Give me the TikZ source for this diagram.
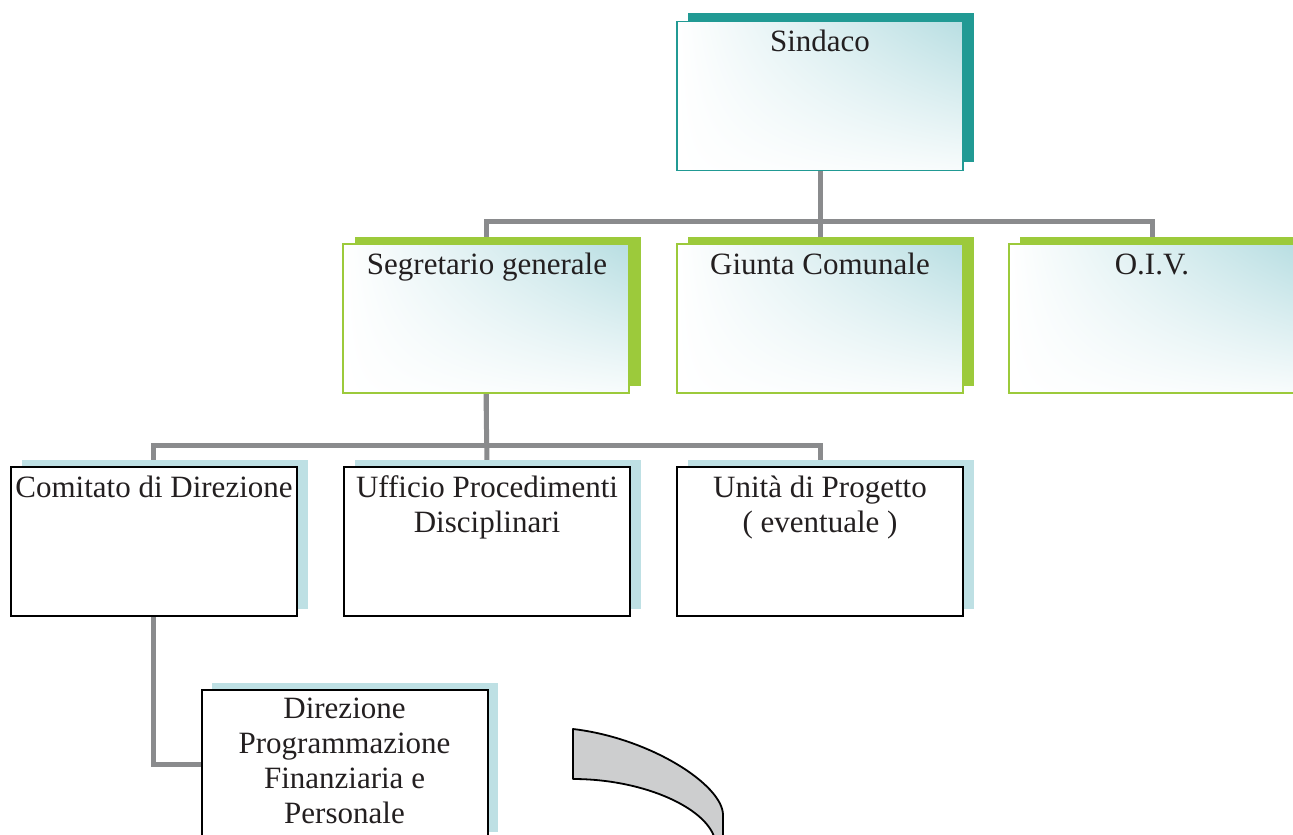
\documentclass[tikz,border=0pt]{standalone}
\usepackage{fontspec}
\setmainfont{Liberation Serif}
\usetikzlibrary{backgrounds,shadings}
\definecolor{tealA}{HTML}{219A94}
\definecolor{greenA}{HTML}{9CCA3B}
\definecolor{lblue}{HTML}{BEE0E4}
\definecolor{cyanlt}{HTML}{B8DEE2}
\definecolor{conn}{HTML}{8A8B8D}
\definecolor{arcfill}{HTML}{CDCECF}
\definecolor{txt}{HTML}{231F20}
\begin{document}
\begin{tikzpicture}[x=0.5pt,y=-0.5pt,
  box/.style={rectangle, minimum width=143pt, minimum height=74.5pt, inner sep=0pt, outer sep=0pt},
  grad/.style={upper left=white, upper right=cyanlt, lower left=white, lower right=white!90!cyanlt},
  tealshadow/.style={box, fill=tealA},
  greenshadow/.style={box, fill=greenA},
  blueshadow/.style={box, fill=lblue},
  topbox/.style={box, grad, draw=tealA, line width=0.8pt},
  midbox/.style={box, grad, draw=greenA, line width=1pt},
  lowbox/.style={box, fill=white, draw=black, line width=1pt},
  lbl/.style={anchor=base, inner sep=0pt, text=txt, align=center, font=\fontsize{15.5}{17.5}\selectfont},
  link/.style={draw=conn, line width=2.5pt}
]
\useasboundingbox (0,0) rectangle (1293,834);

% shadows
\node[tealshadow] (sindS) at (830.5,88) {};
\node[greenshadow] (segrS) at (498,311.5) {};
\node[greenshadow] (giunS) at (831,311.5) {};
\node[greenshadow] (oivS) at (1163,311.5) {};
\node[blueshadow] (comS) at (164.5,534.5) {};
\node[blueshadow] (uffS) at (498,534.5) {};
\node[blueshadow] (uniS) at (831,534.5) {};
\node[blueshadow] (dirS) at (355,757) {};

% boxes
\node[topbox] (sind) at (820,96) {};
\node[midbox] (segr) at (486,318.5) {};
\node[midbox] (giun) at (820,318.5) {};
\node[midbox] (oiv) at (1152,318.5) {};
\node[lowbox] (com) at (153.5,541.5) {};
\node[lowbox] (uff) at (487,541.5) {};
\node[lowbox] (uni) at (820,541.5) {};
\node[lowbox] (dir) at (344.5,764.5) {};

% texts (multi-line nodes: base = last line baseline)
\node[lbl] (tsind) at (820,52) {Sindaco};
\node[lbl] (tsegr) at (487,274) {Segretario generale};
\node[lbl] (tgiun) at (820,274) {Giunta Comunale};
\node[lbl] (toiv) at (1152,274) {O.I.V.};
\node[lbl] (tcom) at (154,497) {Comitato di Direzione};
\node[lbl] (tuff) at (487,532) {Ufficio Procedimenti\\Disciplinari};
\node[lbl] (tuni) at (820,532) {Unità di Progetto\\( eventuale )};
\node[lbl] (tdir) at (344.5,823) {Direzione\\Programmazione\\Finanziaria e\\Personale};

% connectors
\begin{scope}[on background layer]
\draw[link] (sind.south) -- (giun.north);
\draw[link] (sind.south) -- ++(0,51) -| (segr.north);
\draw[link] (sind.south) -- ++(0,51) -| (oiv.north);
\draw[link] (segr.south) -- ++(0,52) -| (com.north);
\draw[link] (segr.south) -- (uff.north);
\draw[link] (segr.south) -- ++(0,52) -| (uni.north);
\draw[link] (com.south) |- (dir.west);
\end{scope}

% curved arrow fragment
\draw[line width=0.9pt, fill=arcfill, line join=round]
  (573,729) .. controls (650,738) and (723,785) .. (723,815)
  -- (723,850) -- (719,850) -- (713,834)
  .. controls (700,805) and (640,779) .. (573,779) -- cycle;
\end{tikzpicture}
\end{document}
